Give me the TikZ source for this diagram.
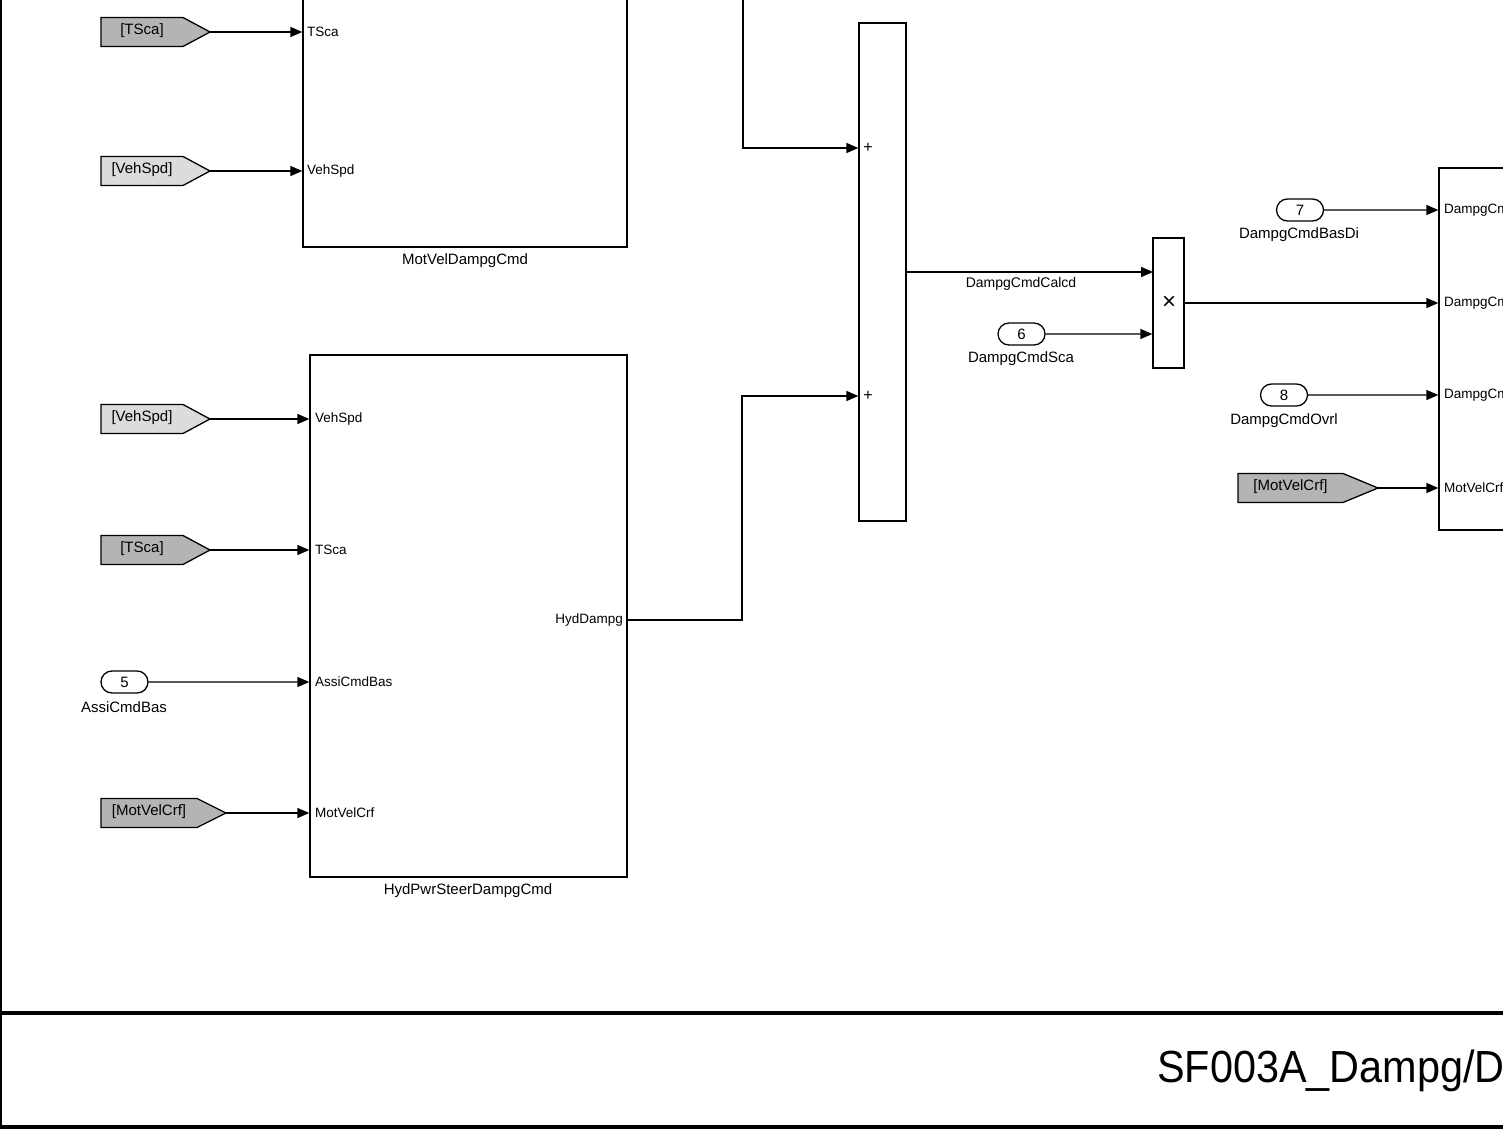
\documentclass[tikz,border=0pt]{standalone}
\usepackage{fontspec}
\setmainfont{Liberation Sans}
\usetikzlibrary{arrows.meta,shapes.misc}
\definecolor{tagdark}{RGB}{180,180,180}
\definecolor{taglight}{RGB}{220,220,220}
\newcommand{\fs}[1]{\fontsize{#1}{#1}\selectfont}
\newcommand{\gototag}[7]{%
  \draw[blk,fill=#6] (#2,#3-14.5) -- (#4,#3-14.5) -- (#5,#3) -- (#4,#3+14.5) -- (#2,#3+14.5) -- cycle;
  \node[tagtxt] at ({(#2+#4)/2},#3-1.5) {#7};
  \coordinate (#1) at (#5,#3);}
\tikzset{
  blk/.style={draw=black,line width=1.3pt},
  block/.style={blk,rectangle,inner sep=0pt},
  wire/.style={line width=1.4pt,-{Triangle[length=12pt,width=10pt]}},
  tagtxt/.style={font=\fs{15},inner sep=0pt},
  portlbl/.style={font=\fs{13.5},inner sep=0pt},
  lbl/.style={font=\fs{15},inner sep=0pt},
  inport/.style={blk,rounded rectangle,minimum width=47pt,minimum height=22pt,inner sep=0pt,font=\fs{15}},
}
\begin{document}
\begin{tikzpicture}[x=1pt,y=-1pt]
\useasboundingbox (0,0) rectangle (1503,1131);
\clip (0,0) rectangle (1503,1131);
\fill[white] (0,0) rectangle (1503,1131);

% frame
\draw[line width=2pt] (1,-5) -- (1,1128);
\draw[line width=3.5pt] (0,1013) -- (1510,1013);
\draw[line width=4pt] (0,1127) -- (1510,1127);
\node[anchor=base west,font=\fs{45},xscale=0.92,inner sep=0pt] (title) at (1157,1082) {SF003A\_Dampg/D};

% MotVelDampgCmd block
\node[block,minimum width=324pt,minimum height=277pt] (mvd) at (465,108.5) {};
\node[lbl] (mvdname) at (465,261) {MotVelDampgCmd};
\node[portlbl,anchor=west] (mvdp1) at (307,32) {TSca};
\node[portlbl,anchor=west] (mvdp2) at (307,171) {VehSpd};
\gototag{t1}{101}{32}{183}{210}{tagdark}{[TSca]}
\gototag{t2}{101}{171}{183}{210}{taglight}{[VehSpd]}
\draw[wire] (t1) -- (t1 -| mvd.west);
\draw[wire] (t2) -- (t2 -| mvd.west);

% HydPwrSteerDampgCmd block
\node[block,minimum width=317pt,minimum height=522pt] (hyd) at (468.5,616) {};
\node[lbl] (hydname) at (468,891) {HydPwrSteerDampgCmd};
\node[portlbl,anchor=west] (hp1) at (315,419) {VehSpd};
\node[portlbl,anchor=west] (hp2) at (315,550) {TSca};
\node[portlbl,anchor=west] (hp3) at (315,682) {AssiCmdBas};
\node[portlbl,anchor=west] (hp4) at (315,813) {MotVelCrf};
\node[portlbl,anchor=east] (hout) at (623,620) {HydDampg};
\gototag{t3}{101}{419}{183}{210}{taglight}{[VehSpd]}
\gototag{t4}{101}{550}{183}{210}{tagdark}{[TSca]}
\gototag{t5}{101}{813}{197}{226}{tagdark}{[MotVelCrf]}
\node[inport] (in5) at (124.5,682) {5};
\node[lbl] (in5name) at (124,707) {AssiCmdBas};
\draw[wire] (t3) -- (t3 -| hyd.west);
\draw[wire] (t4) -- (t4 -| hyd.west);
\draw[wire] (in5) -- (in5 -| hyd.west);
\draw[wire] (t5) -- (t5 -| hyd.west);

% Sum block
\node[block,minimum width=47pt,minimum height=498pt] (sum) at (882.5,272) {};
\node[font=\fs{16},inner sep=0pt] (plus1) at (868,148) {+};
\node[font=\fs{16},inner sep=0pt] (plus2) at (868,396) {+};
\coordinate (ctop) at (743,-5);
\draw[wire] (ctop) |- (plus1 -| sum.west);
\draw[wire] (hyd.east |- hout) -| (742,396) -- (plus2 -| sum.west);

% Product block
\node[block,minimum width=31pt,minimum height=130pt] (prod) at (1168.5,303) {};
\node[font=\fs{24},inner sep=0pt] (times) at (1169,303) {×};
\coordinate (pin1) at (1153,272);
\draw[wire] (sum.east |- pin1) -- (pin1);
\node[lbl,font=\fs{14}] (calcd) at (1021,284) {DampgCmdCalcd};
\node[inport] (in6) at (1021.5,334) {6};
\node[lbl] (in6name) at (1021,359) {DampgCmdSca};
\draw[wire] (in6) -- (in6 -| prod.west);

% Right block
\node[block,minimum width=200pt,minimum height=362pt] (rb) at (1539,349) {};
\node[portlbl,anchor=west] (rp1) at (1444,210) {DampgCmdBasDi};
\node[portlbl,anchor=west] (rp2) at (1444,303) {DampgCmdSca};
\node[portlbl,anchor=west] (rp3) at (1444,395) {DampgCmdOvrl};
\node[portlbl,anchor=west] (rp4) at (1444,488) {MotVelCrf};
\node[inport] (in7) at (1300,210) {7};
\node[lbl] (in7name) at (1299,235) {DampgCmdBasDi};
\node[inport] (in8) at (1284,395) {8};
\node[lbl] (in8name) at (1284,421) {DampgCmdOvrl};
\gototag{t6}{1238}{488}{1343}{1378}{tagdark}{[MotVelCrf]}
\draw[wire] (in7) -- (in7 -| rb.west);
\draw[wire] (prod.east) -- (prod.east -| rb.west);
\draw[wire] (in8) -- (in8 -| rb.west);
\draw[wire] (t6) -- (t6 -| rb.west);
\end{tikzpicture}
\end{document}
